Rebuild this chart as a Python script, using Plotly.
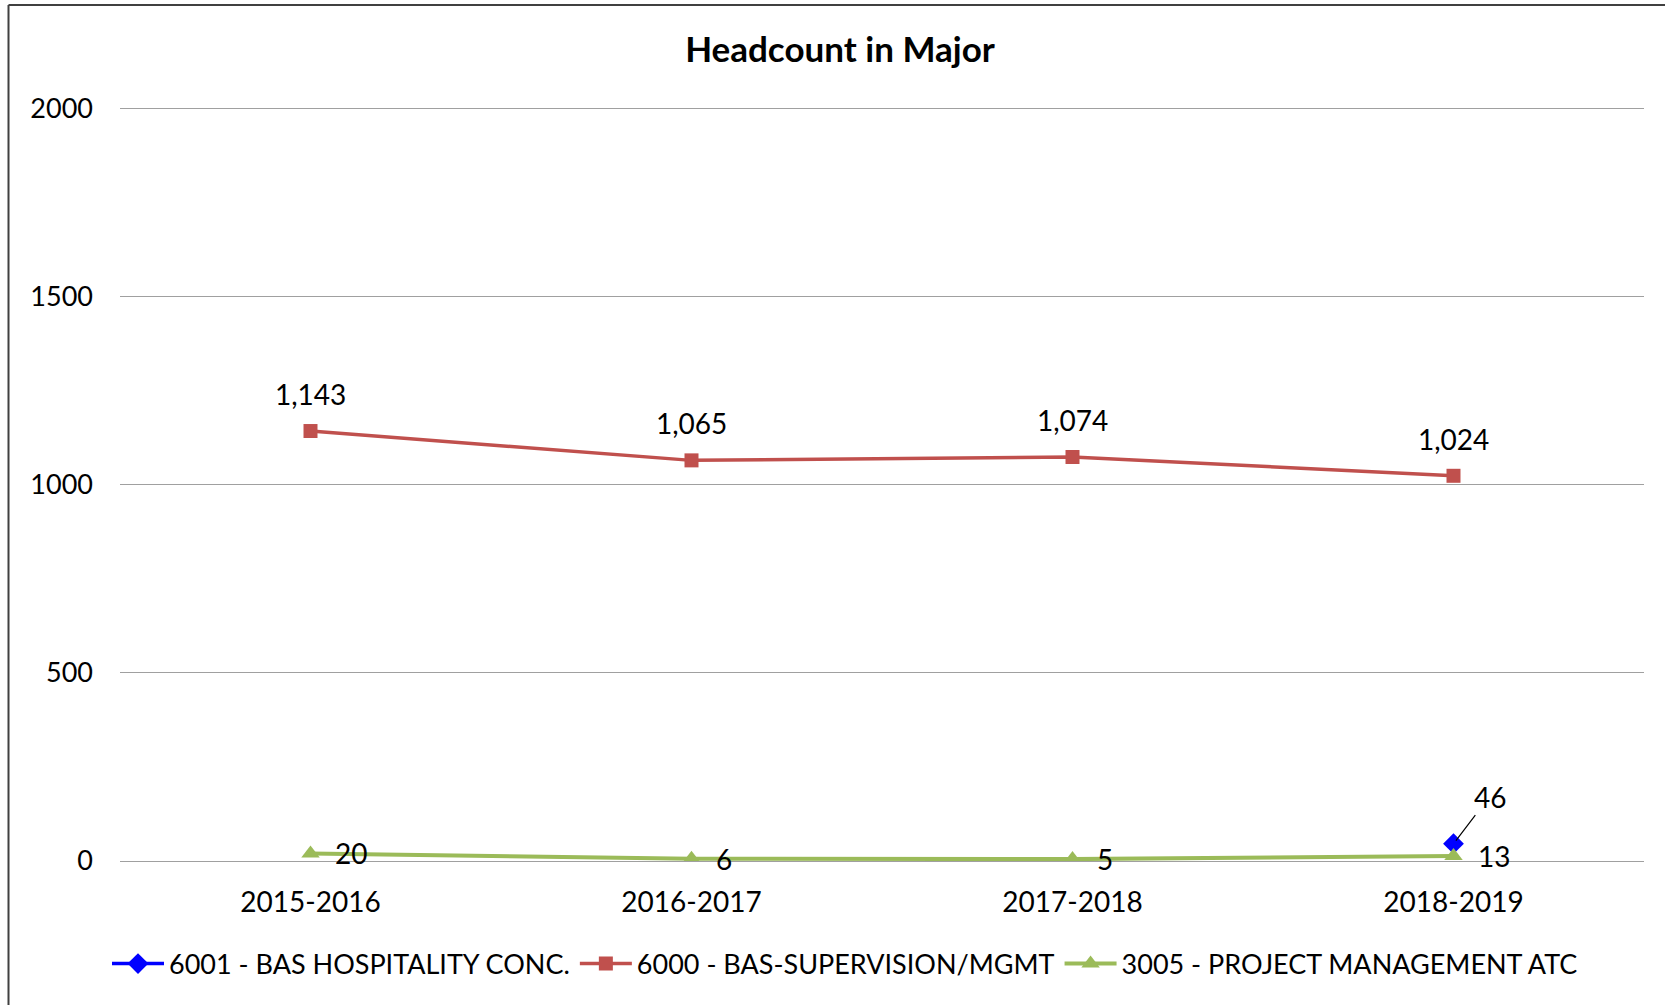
import plotly.graph_objects as go

years = ["2015-2016", "2016-2017", "2017-2018", "2018-2019"]
s6001 = [None, None, None, 46]
s6000 = [1143, 1065, 1074, 1024]
s3005 = [20, 6, 5, 13]
names = ["6001 - BAS HOSPITALITY CONC.", "6000 - BAS-SUPERVISION/MGMT", "3005 - PROJECT MANAGEMENT ATC"]

FONT = "Lato"
W, H = 1665, 1005
YMAX = 2015
L, R, B = 120, 21, 144
T = (H - B) - 752 * YMAX / 2000

fig = go.Figure()
fig.add_trace(go.Scatter(x=years, y=s6001, name=names[0], mode="lines+markers",
                         line=dict(color="#0000FF", width=3.5),
                         marker=dict(symbol="diamond", size=16, color="#0000FF")))
fig.add_trace(go.Scatter(x=years, y=s6000, name=names[1], mode="lines+markers",
                         line=dict(color="#C0504D", width=3.5),
                         marker=dict(symbol="square", size=14, color="#C0504D")))
fig.add_trace(go.Scatter(x=years, y=s3005, name=names[2], mode="lines+markers",
                         line=dict(color="#9BBB59", width=4),
                         marker=dict(symbol="triangle-up", size=16, color="#9BBB59")))

LBL = dict(family=FONT, size=28, color="black")
ann = []
for x, v in zip(years, s6000):
    ann.append(dict(x=x, y=v, text=f"{v:,}", showarrow=False, yshift=37, font=LBL))
for x, v in zip(years, s3005):
    ann.append(dict(x=x, y=v, text=f"{v:,}", showarrow=False, xanchor="left", xshift=22, font=LBL))
for x, v in zip(years, s6001):
    if v is not None:
        ann.append(dict(x=x, y=v, text=f"{v:,}", showarrow=True, arrowhead=0, arrowwidth=1.2,
                        arrowcolor="black", ax=36, ay=-47, standoff=4, font=LBL))

pw = W - L - R
ph = H - T - B
def px2x(p):
    return (p - L) / pw
def py2y(p):
    return (H - B - p) / ph

shapes = [
    dict(type="line", xref="paper", yref="paper", x0=px2x(8.5), x1=px2x(1700), y0=py2y(5.5), y1=py2y(5.5),
         line=dict(color="#404040", width=2)),
    dict(type="line", xref="paper", yref="paper", x0=px2x(8.5), x1=px2x(8.5), y0=py2y(5.5), y1=py2y(1100),
         line=dict(color="#404040", width=2)),
]

fig.update_layout(
    width=W, height=H,
    margin=dict(l=L, r=R, t=T, b=B),
    paper_bgcolor="white", plot_bgcolor="white",
    font=dict(family=FONT, size=27, color="black"),
    title=dict(text="<b>Headcount in Major</b>", x=840 / W, xanchor="center",
               y=1 - 50 / H, yanchor="middle", font=dict(family=FONT, size=35, color="black")),
    showlegend=True,
    legend=dict(orientation="h", x=px2x(845), xanchor="center", y=py2y(964), yanchor="middle",
                font=dict(family=FONT, size=27, color="black"), itemwidth=52, tracegroupgap=0),
    annotations=ann,
    shapes=shapes,
    xaxis=dict(type="category", range=[-0.5, 3.5], showgrid=False, showline=True,
               linecolor="#a0a0a0", linewidth=1, ticks="", ticklabelstandoff=16,
               tickfont=dict(family=FONT, size=28, color="black"), fixedrange=True),
    yaxis=dict(range=[0, YMAX], dtick=500, tickformat="d", showgrid=True, gridcolor="#a0a0a0",
               gridwidth=1, zeroline=False, showline=False, ticks="", ticklabelstandoff=26,
               tickfont=dict(family=FONT, size=27, color="black"), fixedrange=True),
)

fig.write_html("out.html", config={"displayModeBar": False},
               post_script="document.body.style.margin='0px';")
